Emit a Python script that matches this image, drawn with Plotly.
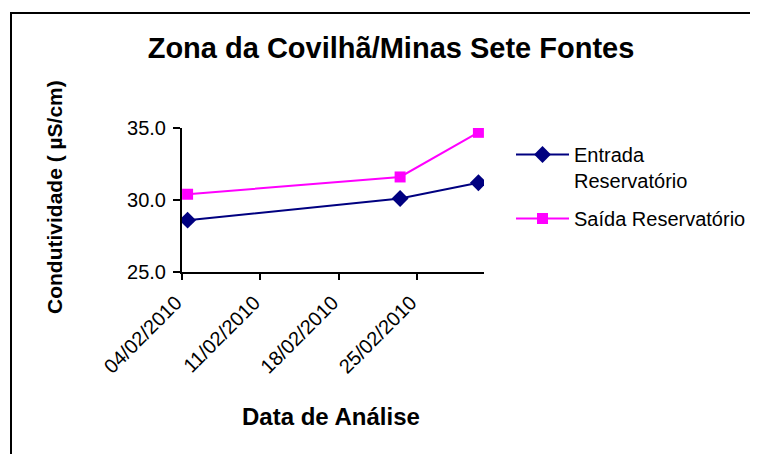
import pandas as pd
import plotly.graph_objects as go

# ---- data ----
dates = ["2010-02-04", "2010-02-23", "2010-03-02"]
entrada = [28.6, 30.1, 31.2]
saida = [30.4, 31.6, 34.7]
series_names = ["Entrada<br>Reservatório", "Saída Reservatório"]
title_text = "Zona da Covilhã/Minas Sete Fontes"
y_title = "Condutividade ( µS/cm)"
x_title = "Data de Análise"

# Excel date axis places each point in the middle of its day slot
x_vals = pd.to_datetime(dates) + pd.Timedelta(hours=12)

FONT = "Liberation Sans, Arial, sans-serif"

fig = go.Figure()
fig.add_trace(go.Scatter(
    x=x_vals, y=entrada, name=series_names[0], mode="lines+markers",
    legendgroup="g1",
    line=dict(color="#000080", width=2),
    marker=dict(symbol="diamond", size=13, color="#000080"),
))
fig.add_trace(go.Scatter(
    x=x_vals, y=saida, name=series_names[1], mode="lines+markers",
    legendgroup="g2",
    line=dict(color="#FF00FF", width=2),
    marker=dict(symbol="square", size=11, color="#FF00FF"),
))

OFF = 8  # page body margin
W, H = 750, 446
L, R, T, B = 174, 274, 120, 182
pw = W - L - R
ph = H - T - B

def px(xr):
    return (xr - OFF - L) / pw

def py(yr):
    return (H - B - (yr - OFF)) / ph

fig.update_layout(
    width=W, height=H,
    margin=dict(l=L, r=R, t=T, b=B, pad=0, autoexpand=False),
    paper_bgcolor="white", plot_bgcolor="white",
    font=dict(family=FONT, color="black", size=19),
    title=dict(text="<b>" + title_text + "</b>", x=(391 - OFF) / W, xref="container",
               xanchor="center", y=1 - (48 - OFF) / H, yref="container", yanchor="middle",
               font=dict(size=29, family=FONT, color="black")),
    showlegend=True,
    legend=dict(x=px(511), y=py(135), xanchor="left", yanchor="top",
                font=dict(size=20, family=FONT, color="black"),
                valign="top", itemwidth=53, bgcolor="rgba(0,0,0,0)",
                traceorder="grouped", tracegroupgap=9),
    xaxis=dict(
        type="date", range=["2010-02-04", "2010-03-03"],
        tick0="2010-02-04", dtick=7 * 86400000, tickformat="%d/%m/%Y",
        tickangle=-45, ticks="outside", ticklen=6, tickwidth=2, tickcolor="black",
        showline=True, linecolor="black", linewidth=2, showgrid=False, zeroline=False,
        tickfont=dict(size=20, family=FONT, color="black"),
        ticklabelstandoff=3, ticklabelshift=-6,
    ),
    yaxis=dict(
        range=[25, 35], dtick=5, tickformat=".1f",
        ticks="outside", ticklen=7, tickwidth=2, tickcolor="black",
        showline=True, linecolor="black", linewidth=2, showgrid=False, zeroline=False,
        tickfont=dict(size=20, family=FONT, color="black"),
        ticklabelstandoff=3,
    ),
    annotations=[
        dict(text="<b>" + y_title + "</b>", xref="paper", yref="paper",
             x=px(54), y=py(197), xanchor="center", yanchor="middle",
             textangle=-90, showarrow=False,
             font=dict(size=21, family=FONT, color="black")),
        dict(text="<b>" + x_title + "</b>", xref="paper", yref="paper",
             x=px(331), y=py(416), xanchor="center", yanchor="middle",
             showarrow=False,
             font=dict(size=24, family=FONT, color="black")),
    ],
    shapes=[
        dict(type="rect", xref="paper", yref="paper",
             x0=px(11), y0=py(480), x1=px(790), y1=py(13),
             line=dict(color="black", width=2), fillcolor="rgba(0,0,0,0)",
             layer="below"),
    ],
)

fig.write_html("out.html")
